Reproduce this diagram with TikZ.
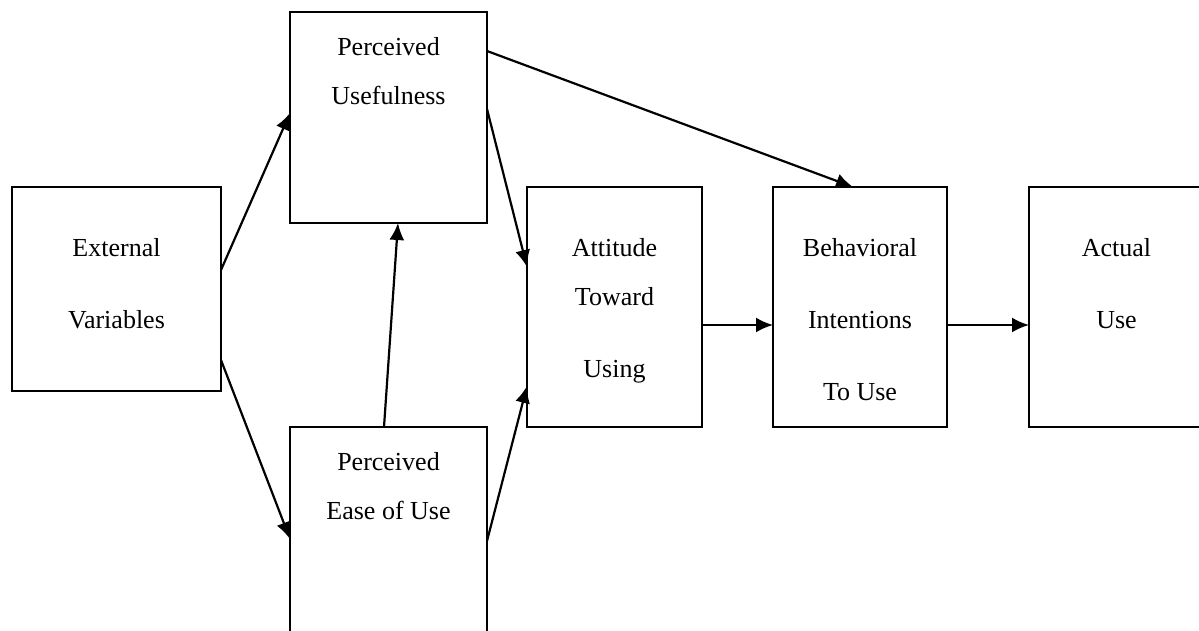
\documentclass[tikz,border=0pt]{standalone}
\usepackage{fontspec}
\setmainfont{Liberation Serif}
\usepackage{xcolor}
\usepackage{tikz}
\usetikzlibrary{arrows.meta,positioning,calc}

\begin{document}
\begin{tikzpicture}[
  x=0.5pt, y=-0.5pt, >=Latex,
  bx/.style={draw, line width=1pt, rectangle, inner sep=0pt, outer sep=0pt},
  lbl/.style={align=center, inner sep=0pt, font=\fontsize{13}{24.5}\selectfont},
  every edge/.style={draw, line width=1.1pt, -{Latex[length=8.5pt,width=7.5pt]}}]
\useasboundingbox (0,0) rectangle (1199,631);
\clip (0,0) rectangle (1199,631);
\node[bx, minimum width=104.5pt, minimum height=102pt] (ext) at (116.5,289) {};
\node[bx, minimum width=98.5pt, minimum height=105.5pt] (pu) at (388.5,117.5) {};
\node[bx, minimum width=98.5pt, minimum height=105.5pt, below=102pt of pu] (peou) {};
\node[bx, minimum width=87.5pt, minimum height=120pt] (att) at (614.5,307) {};
\node[bx, minimum width=87pt, minimum height=120pt, right=35.5pt of att] (bi) {};
\node[bx, minimum width=87.5pt, minimum height=120pt, right=41pt of bi] (use) {};
\node[lbl, below=25.7pt of ext.north] {External\\[11.5pt]Variables};
\node[lbl, below=12.7pt of pu.north] {Perceived\\Usefulness};
\node[lbl, below=12.7pt of peou.north] {Perceived\\Ease of Use};
\node[lbl, below=25.7pt of att.north] {Attitude\\Toward\\[11.5pt]Using};
\node[lbl, below=25.7pt of bi.north] {Behavioral\\[11.5pt]Intentions\\[11.5pt]To Use};
\node[lbl, below=25.7pt of use.north] {Actual\\[11.5pt]Use};
\path ($(ext.east)+(0,-19)$) edge ($(pu.west)+(0,-4.5)$);
\path ($(ext.east)+(0,71)$) edge ($(peou.west)+(0,6.5)$);
\path ($(peou.north)+(-4.5,0)$) edge ($(pu.south)+(9.5,0)$);
\path ($(pu.east)+(0,-8.5)$) edge ($(att.west)+(0,-40)$);
\path ($(peou.east)+(0,8.5)$) edge ($(att.west)+(0,79)$);
\path ($(pu.east)+(0,-66.5)$) edge ($(bi.north)+(-7,0)$);
\path ($(att.east)+(0,18)$) edge ($(bi.west)+(0,18)$);
\path ($(bi.east)+(0,18)$) edge ($(use.west)+(0,18)$);
\end{tikzpicture}
\end{document}
